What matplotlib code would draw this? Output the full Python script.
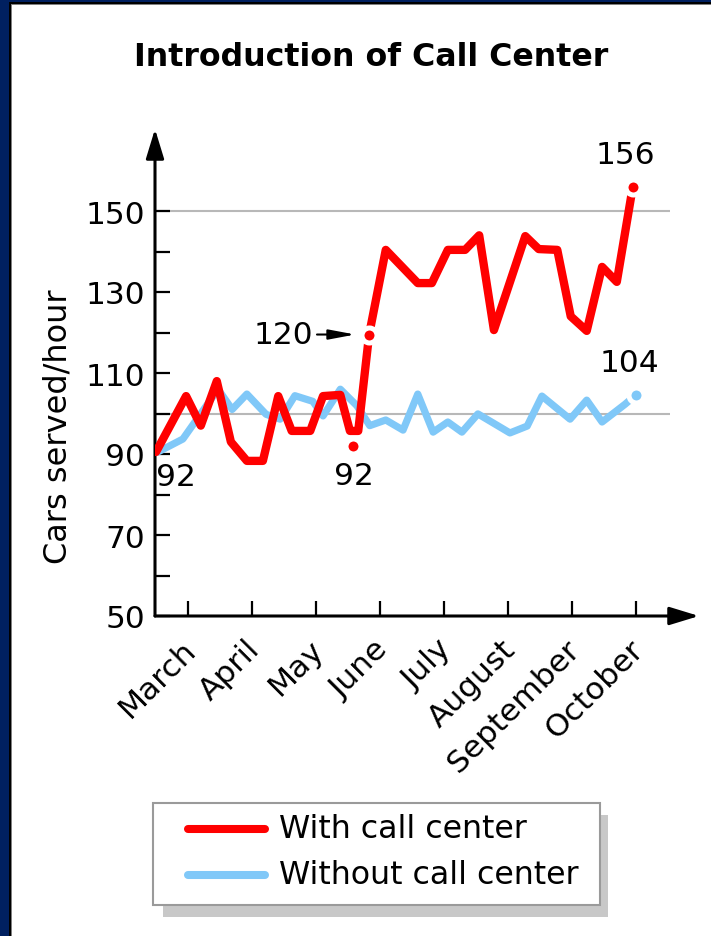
import matplotlib
matplotlib.use("Agg")
import matplotlib.pyplot as plt
from matplotlib.patches import Rectangle
from matplotlib.lines import Line2D
import matplotlib.transforms as mtransforms

plt.rcParams['font.family'] = ['DejaVu Sans']

# ---------------- data ----------------
title = "Introduction of Call Center"
y_label = "Cars served/hour"
months = ["March", "April", "May", "June", "July", "August", "September", "October"]
month_pos = [0, 1, 2, 3, 4, 5, 6, 7]
y_major = [50, 70, 90, 110, 130, 150]
y_minor = [60, 80, 100, 120, 140]
grid_values = [100, 150]

series_names = ["With call center", "Without call center"]
series_colors = ["#ff0000", "#80c8f8"]

red_x = [-0.50, -0.03, 0.20, 0.45, 0.67, 0.92, 1.17, 1.41, 1.62, 1.91, 2.11, 2.38,
         2.53, 2.66, 2.83, 3.09, 3.59, 3.81, 4.06, 4.33, 4.55, 4.78, 5.27, 5.48,
         5.77, 5.98, 6.23, 6.47, 6.70, 6.95]
red_y = [90.5, 104.3, 97.0, 108.0, 93.0, 88.3, 88.3, 104.3, 95.7, 95.7, 104.3, 104.6,
         95.7, 95.7, 119.5, 140.4, 132.2, 132.2, 140.4, 140.4, 144.0, 120.6, 143.8, 140.6,
         140.4, 124.0, 120.4, 136.2, 132.5, 156.0]

blue_x = [-0.47, -0.08, 0.47, 0.69, 0.92, 1.22, 1.44, 1.67, 1.95, 2.11, 2.38, 2.64,
          2.84, 3.09, 3.36, 3.59, 3.83, 4.06, 4.28, 4.53, 5.03, 5.30, 5.53, 5.97,
          6.23, 6.47, 6.83, 7.00]
blue_y = [90.5, 93.7, 106.0, 101.0, 104.8, 99.8, 98.6, 104.4, 103.0, 99.4, 106.0, 101.9,
          97.0, 98.4, 95.9, 104.8, 95.4, 97.9, 95.4, 99.9, 95.2, 96.9, 104.3, 98.6,
          103.3, 97.9, 102.3, 104.6]

# separate highlighted point (dip before the call center)
red_dip_x = [2.58]
red_dip_y = [92.0]

# ---------------- figure ----------------
W, H = 711, 937
fig = plt.figure(figsize=(W / 100, H / 100), dpi=100)
fig.patch.set_facecolor("#002060")

def fx(px):
    return px / W

def fy(py):
    return 1 - py / H

# frame
fig.add_artist(Rectangle((fx(9), 0), 1 - fx(9), fy(3), transform=fig.transFigure,
                         facecolor="black", edgecolor="none", zorder=-3))
fig.add_artist(Rectangle((fx(11), 0), 1 - fx(11), fy(5), transform=fig.transFigure,
                         facecolor="#808080", edgecolor="none", zorder=-2))
fig.add_artist(Rectangle((fx(12), 0), 1 - fx(12), fy(6), transform=fig.transFigure,
                         facecolor="white", edgecolor="none", zorder=-1))

fig.text(fx(371), fy(57), title, ha="center", va="center",
         fontsize=22.8, fontweight="bold")

ax_left, ax_right, ax_bottom, ax_top = 155, 699, 617, 130
ax = fig.add_axes([fx(ax_left), fy(ax_bottom), (ax_right - ax_left) / W,
                   (ax_bottom - ax_top) / H])
ax.set_facecolor("none")
xl = (ax_left - 188) / 64.0
xr = (ax_right - 188) / 64.0
ax.set_xlim(xl, xr)
ax.set_ylim(50, 50 + (ax_bottom - ax_top) / 4.05)
for s in ax.spines.values():
    s.set_visible(False)

# axis arrows
arrow_kw = dict(arrowstyle="-|>,head_length=1.8,head_width=0.55", color="black",
                lw=2.2, shrinkA=0, shrinkB=0, mutation_scale=10)
ax.annotate("", xy=(0, 1), xytext=(0, 0), xycoords="axes fraction",
            arrowprops=arrow_kw, annotation_clip=False)
ax.annotate("", xy=(1, 0), xytext=(0, 0), xycoords="axes fraction",
            arrowprops=arrow_kw, annotation_clip=False)

# grid lines
ax.hlines(grid_values, xl, 7.53, color="#b8b8b8", lw=1.5, zorder=1)

# ticks
fs = 22.5
ax.set_yticks(y_major)
ax.set_yticks(y_minor, minor=True)
ax.set_xticks(month_pos)
ax.tick_params(axis="both", which="both", direction="in", length=10.8, width=1.6,
               labelsize=fs, color="black")
ax.tick_params(axis="y", pad=7)
ax.set_xticklabels(months, rotation=45, ha="right", va="top", rotation_mode="anchor")
ax.tick_params(axis="x", pad=13)
offset = mtransforms.ScaledTranslation(-5 / 72, 0, fig.dpi_scale_trans)
for lab in ax.get_xticklabels():
    lab.set_transform(lab.get_transform() + offset)

ax.set_ylabel(y_label, fontsize=23)
ax.yaxis.set_label_coords((74 - ax_left) / (ax_right - ax_left),
                          (ax_bottom - 427) / (ax_bottom - ax_top))

# lines
ax.plot(blue_x, blue_y, color=series_colors[1], lw=5.2, solid_joinstyle="round",
        solid_capstyle="round", zorder=3)
ax.plot(red_x, red_y, color=series_colors[0], lw=6.0, solid_joinstyle="round",
        solid_capstyle="round", zorder=4)

dot_kw = dict(marker="o", ms=10.8, mew=3.6, mec="white", linestyle="none", zorder=5)
ax.plot([red_x[14]], [red_y[14]], mfc=series_colors[0], **dot_kw)
ax.plot([red_x[-1]], [red_y[-1]], mfc=series_colors[0], **dot_kw)
ax.plot(red_dip_x, red_dip_y, mfc=series_colors[0], **dot_kw)
ax.plot([blue_x[-1]], [blue_y[-1]], mfc=series_colors[1], **dot_kw)

# annotations
ax.annotate("92", xy=(red_x[0], red_y[0]), xytext=(14, -18), textcoords="offset points",
            ha="center", va="center", fontsize=fs, zorder=6)
ax.annotate("92", xy=(red_dip_x[0], red_dip_y[0]), xytext=(0.5, -21),
            textcoords="offset points", ha="center", va="center", fontsize=fs, zorder=6)
ax.annotate("156", xy=(red_x[-1], red_y[-1]), xytext=(-5, 23),
            textcoords="offset points", ha="center", va="center", fontsize=fs, zorder=6)
ax.annotate("104", xy=(blue_x[-1], blue_y[-1]), xytext=(-4.5, 23),
            textcoords="offset points", ha="center", va="center", fontsize=fs, zorder=6)
ax.annotate("120", xy=(red_x[14], red_y[14]), xytext=(-62, 0),
            textcoords="offset points", ha="center", va="center", fontsize=fs, zorder=6,
            arrowprops=dict(arrowstyle="-|>,head_length=1.6,head_width=0.3",
                            color="black", lw=1.5, shrinkA=1, shrinkB=10,
                            mutation_scale=10))

# legend (drawn manually)
fig.add_artist(Rectangle((fx(163), fy(918)), (608 - 163) / W, (918 - 816) / H,
                         transform=fig.transFigure, facecolor="#c8c8c8",
                         edgecolor="none", zorder=2))
fig.add_artist(Rectangle((fx(153), fy(906)), (600 - 153) / W, (906 - 804) / H,
                         transform=fig.transFigure, facecolor="white",
                         edgecolor="#9a9a9a", lw=1.5, zorder=3))
for i, (name, col) in enumerate(zip(series_names, series_colors)):
    yy = [830, 876][i]
    fig.add_artist(Line2D([fx(188), fx(265)], [fy(yy), fy(yy)], color=col, lw=5.8,
                          solid_capstyle="round", transform=fig.transFigure, zorder=4))
    fig.text(fx(279), fy(yy), name, ha="left", va="center", fontsize=22.8, zorder=5)

fig.savefig("out.png", dpi=100)
